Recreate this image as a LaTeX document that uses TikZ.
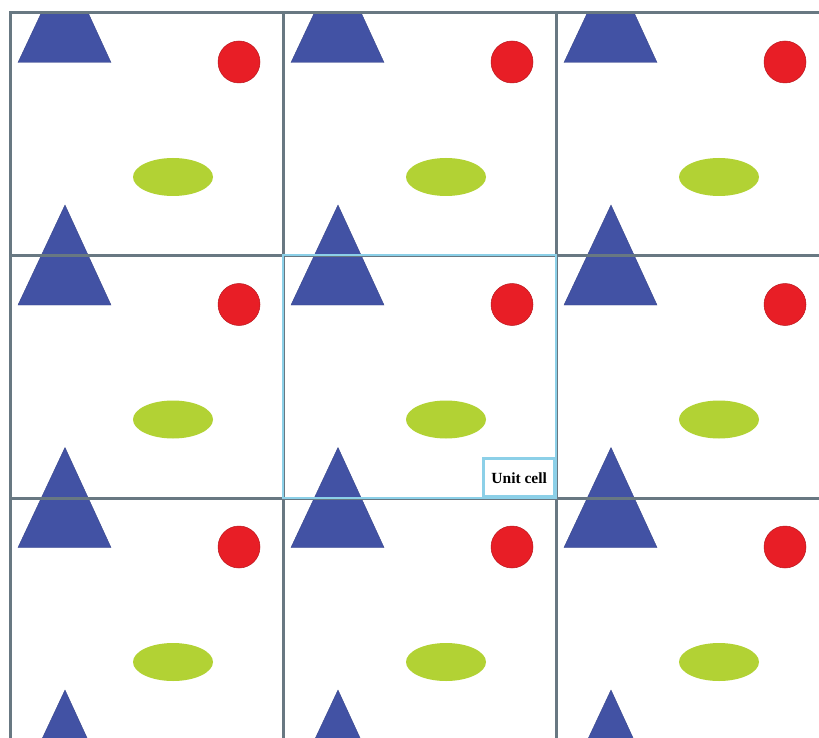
\documentclass[tikz,border=0pt]{standalone}
\usepackage{fontspec}
\setmainfont{Liberation Serif}
\definecolor{tricol}{RGB}{66,82,164}
\definecolor{dotcol}{RGB}{232,30,38}
\definecolor{ellcol}{RGB}{178,210,52}
\definecolor{gridcol}{RGB}{104,120,130}
\definecolor{cellcol}{RGB}{140,208,232}
\tikzset{
  gridline/.style={draw=gridcol, line width=3pt},
  unitbox/.style={draw=cellcol, line width=2.6pt},
  trishape/.style={fill=tricol, draw=tricol!85!black, line width=0.4pt},
  dotshape/.style={circle, fill=dotcol, draw=dotcol!80!black, line width=0.5pt, minimum size=42pt, inner sep=0pt},
  ellshape/.style={fill=ellcol},
}
\begin{document}
\begin{tikzpicture}[x=1pt,y=-1pt]
\useasboundingbox (0,0) rectangle (819,738);
\fill[white] (0,0) rectangle (819,738);
\begin{scope}
  \clip (10,13) rectangle (819,738);
  \foreach \i in {0,1,2} {
    \foreach \j in {-1,0,1,2} {
      \pgfmathsetmacro\cx{10+273*\i}
      \pgfmathsetmacro\cy{13+242.5*\j}
      \path[trishape] (\cx+55,\cy+192) -- (\cx+101,\cy+292) -- (\cx+8,\cy+292) -- cycle;
      \node[dotshape] (dot-\i-\j) at (\cx+229,\cy+49) {};
      \path[ellshape] (\cx+163,\cy+164) ellipse[x radius=40pt, y radius=19pt];
    }
  }
\end{scope}
% grid lines
\draw[gridline] (10,13) -- (819,13);
\draw[gridline] (10,255) -- (819,255);
\draw[gridline] (10,498) -- (819,498);
\draw[gridline] (10,11.5) -- (10,738);
\draw[gridline] (283,11.5) -- (283,738);
\draw[gridline] (556,11.5) -- (556,738);
% unit cell
\draw[unitbox] (283,255) rectangle (556,498);
\node[unitbox, fill=white, anchor=south east, minimum width=71pt, minimum height=38pt, inner sep=0pt,
      font=\bfseries\fontsize{15.5}{16}\selectfont] (lbl) at (556,498) {Unit cell};
\end{tikzpicture}
\end{document}
